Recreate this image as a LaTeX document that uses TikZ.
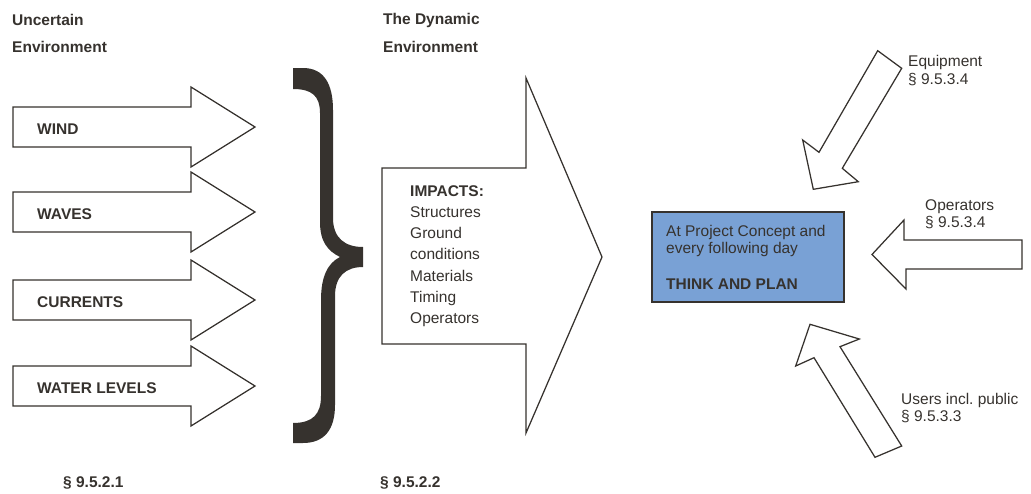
\documentclass[tikz,border=0pt]{standalone}
\usepackage{fontspec}
\setmainfont{Liberation Sans}
\definecolor{ink}{HTML}{36322E}
\definecolor{boxblue}{HTML}{79A1D5}
\tikzset{
  blockarrow/.style={draw=ink, line width=1.25pt, fill=white, line join=miter},
  lbl/.style={inner sep=0pt, anchor=base west, text=ink, font=\fontsize{15.5}{18}\selectfont},
  blbl/.style={lbl, font=\fontsize{15.5}{18}\selectfont\bfseries},
}
\begin{document}
\begin{tikzpicture}[x=1pt,y=-1pt]
\useasboundingbox (0,0) rectangle (1031,493);

% titles
\node[blbl] (t1a) at (12,25) {Uncertain};
\node[blbl] (t1b) at (12,52) {Environment};
\node[blbl] (t2a) at (383,24) {The Dynamic};
\node[blbl] (t2b) at (383,52) {Environment};

% four input arrows
\foreach \cy/\nm/\txt in {127/wind/WIND, 212/waves/WAVES, 300/currents/CURRENTS, 386/levels/WATER LEVELS}{
  \draw[blockarrow] (13,\cy-20) -- (191,\cy-20) -- (191,\cy-40) -- (255,\cy) -- (191,\cy+40) -- (191,\cy+20) -- (13,\cy+20) -- cycle;
  \node[blbl] (\nm) at (37,\cy+7.5) {\txt};
}

% brace
\fill[ink] (293,68) -- (303,68) .. controls (324,68) and (333,84) .. (333,110)
  -- (333,218) .. controls (333,238) and (345,247) .. (363,247)
  -- (363,267) .. controls (346,267) and (335,276) .. (335,296)
  -- (335,405) .. controls (335,430) and (324,443) .. (303,443)
  -- (293,443) -- (293,423) .. controls (313,423) and (321,414) .. (321,396)
  -- (321,300) .. controls (321,276) and (328,263) .. (340,257)
  .. controls (328,251) and (320,242) .. (320,222)
  -- (320,113) .. controls (320,96) and (312,89) .. (293,89) -- cycle;

% big arrow
\draw[blockarrow] (382,168) -- (526,168) -- (526,78) -- (602,257) -- (526,433) -- (526,344) -- (382,344) -- cycle;
\node[blbl] (imp) at (410,196) {IMPACTS:};
\node[lbl] (i1) at (410,217.3) {Structures};
\node[lbl] (i2) at (410,238.6) {Ground};
\node[lbl] (i3) at (410,259.9) {conditions};
\node[lbl] (i4) at (410,281.2) {Materials};
\node[lbl] (i5) at (410,302.5) {Timing};
\node[lbl] (i6) at (410,323.8) {Operators};

% section refs
\node[blbl] (s1) at (63,487) {\S\ 9.5.2.1};
\node[blbl] (s2) at (380,487) {\S\ 9.5.2.2};

% central box
\node[draw=ink, line width=1.3pt, fill=boxblue, minimum width=192pt, minimum height=90pt, inner sep=0pt] (box) at (748,257) {};
\node[lbl] (b1) at (666,236) {At Project Concept and};
\node[lbl] (b2) at (666,253.5) {every following day};
\node[blbl] (b3) at (666,289) {THINK AND PLAN};

% equipment arrow
\draw[blockarrow] (877.7,50.7) -- (901.7,68.3) -- (842.3,168.3) -- (858.3,181.7) -- (813.3,189.3) -- (802.7,140) -- (819,152.3) -- cycle;
\node[lbl] (e1) at (908,66.7) {Equipment};
\node[lbl] (e2) at (908,84.3) {\S\ 9.5.3.4};

% operators arrow
\draw[blockarrow] (1022,240) -- (904,240) -- (904,220) -- (872,254.5) -- (906,289) -- (906,269) -- (1022,269) -- cycle;
\node[lbl] (o1) at (925,210) {Operators};
\node[lbl] (o2) at (925,227.3) {\S\ 9.5.3.4};

% users arrow
\draw[blockarrow] (810,324.3) -- (859.3,339) -- (840,346.7) -- (901.7,446) -- (875,457.3) -- (814,357.7) -- (795.7,366) -- cycle;
\node[lbl] (u1) at (901,404) {Users incl.\ public};
\node[lbl] (u2) at (901,421.7) {\S\ 9.5.3.3};
\end{tikzpicture}
\end{document}
